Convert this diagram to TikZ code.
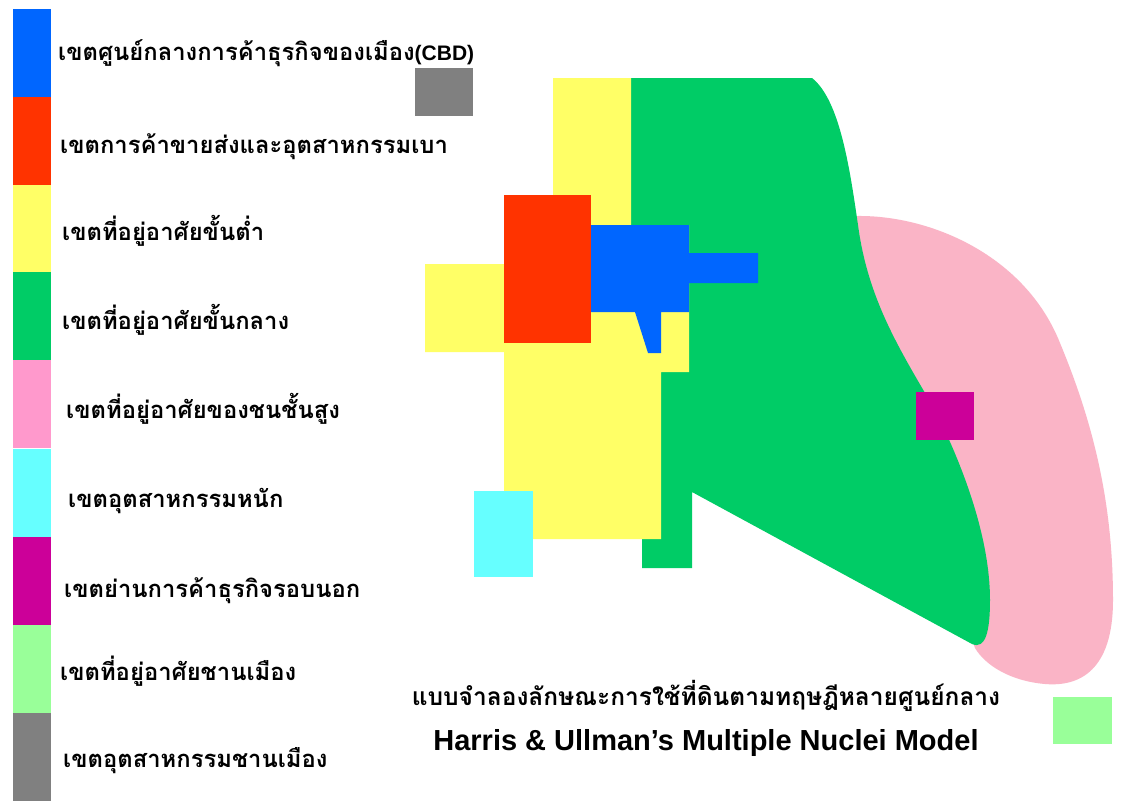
\documentclass[tikz,border=0pt]{standalone}
\usepackage{fontspec}
\setmainfont{Liberation Sans}
\newfontfamily\thaifont[Script=Thai]{Loma}
\definecolor{cbd}{HTML}{0066FF}
\definecolor{whs}{HTML}{FF3300}
\definecolor{low}{HTML}{FFFF66}
\definecolor{mid}{HTML}{00CC66}
\definecolor{highleg}{HTML}{FF99CC}
\definecolor{high}{HTML}{FAB4C6}
\definecolor{heavy}{HTML}{66FFFF}
\definecolor{outb}{HTML}{CC0099}
\definecolor{sub}{HTML}{99FF99}
\definecolor{subind}{HTML}{808080}
\tikzset{
  legbar/.style={inner sep=0pt, minimum width=38pt, minimum height=88pt, anchor=north west},
  leglabel/.style={anchor=base west, inner sep=0pt, font=\thaifont\bfseries\fontsize{23.8}{28}\selectfont},
  sq/.style={inner sep=0pt, anchor=north west}
}
\begin{document}
\begin{tikzpicture}[x=1pt,y=-1pt]
\useasboundingbox (0,0) rectangle (1125,801);
\fill[white] (0,0) rectangle (1125,801);
% legend bars
\node[legbar, fill=cbd]     (b1) at (13,9)   {};
\node[legbar, fill=whs]     (b2) at (13,97)  {};
\node[legbar, fill=low]     (b3) at (13,185) {};
\node[legbar, fill=mid]     (b4) at (13,272) {};
\node[legbar, fill=highleg] (b5) at (13,360) {};
\node[legbar, fill=heavy]   (b6) at (13,449) {};
\node[legbar, fill=outb]    (b7) at (13,537) {};
\node[legbar, fill=sub]     (b8) at (13,625) {};
\node[legbar, fill=subind]  (b9) at (13,713) {};
% legend labels
\node[leglabel] (l1) at (58,60)  {เขตศูนย์กลางการค้าธุรกิจของเมือง{\rmfamily\bfseries\fontsize{21}{24}\selectfont(CBD)}};
\node[leglabel] (l2) at (60,153) {เขตการค้าขายส่งและอุตสาหกรรมเบา};
\node[leglabel] (l3) at (62,240) {เขตที่อยู่อาศัยขั้นต่ำ};
\node[leglabel] (l4) at (62,329) {เขตที่อยู่อาศัยขั้นกลาง};
\node[leglabel] (l5) at (66,418) {เขตที่อยู่อาศัยของชนชั้นสูง};
\node[leglabel] (l6) at (68,507) {เขตอุตสาหกรรมหนัก};
\node[leglabel] (l7) at (64,597) {เขตย่านการค้าธุรกิจรอบนอก};
\node[leglabel] (l8) at (60,680) {เขตที่อยู่อาศัยชานเมือง};
\node[leglabel] (l9) at (63,767) {เขตอุตสาหกรรมชานเมือง};
% map: high-class residential (pink)
\fill[high] (857,216) .. controls (930,215) and (1025,255) .. (1060,343)
  .. controls (1092,420) and (1113,500) .. (1113,600)
  .. controls (1113,670) and (1080,687) .. (1045,684)
  .. controls (1010,681) and (985,665) .. (975,648) -- (850,300) -- cycle;
% middle-class residential (green)
\fill[mid] (631,78) -- (812,78) .. controls (840,100) and (850,170) .. (858,225)
  .. controls (868,300) and (900,350) .. (935,410)
  .. controls (965,470) and (990,540) .. (990,600)
  .. controls (990,630) and (986,650) .. (972,644)
  -- (692,492) -- (692,568) -- (642,568) -- (642,539) -- (661,539)
  -- (661,372) -- (689,372) -- (689,225) -- (631,225) -- cycle;
% low-class residential (yellow)
\fill[low] (553,78) -- (631,78) -- (631,225) -- (689,225) -- (689,372) -- (661,372)
  -- (661,539) -- (504,539) -- (504,352) -- (425,352) -- (425,264) -- (504,264)
  -- (504,195) -- (553,195) -- cycle;
% wholesale / light industry (red)
\fill[whs] (504,195) rectangle (591,343);
% CBD (blue)
\fill[cbd] (591,225) -- (689,225) -- (689,253) -- (758,253) -- (758,283) -- (689,283)
  -- (689,312) -- (661,312) -- (661,353) -- (648,353) -- (635,312) -- (591,312) -- cycle;
% small squares
\node[sq, fill=subind, minimum width=58pt, minimum height=48pt] (gray) at (415,68) {};
\node[sq, fill=heavy,  minimum width=59pt, minimum height=86pt] (cyan) at (474,491) {};
\node[sq, fill=outb,   minimum width=58pt, minimum height=48pt] (mag)  at (916,392) {};
\node[sq, fill=sub,    minimum width=59pt, minimum height=47pt] (lgr)  at (1053,697) {};
% titles
\node[anchor=base, inner sep=0pt, font=\thaifont\bfseries\fontsize{24.5}{28}\selectfont] (t1) at (706,705)
  {แบบจำลองลักษณะการใช้ที่ดินตามทฤษฎีหลายศูนย์กลาง};
\node[anchor=base, inner sep=0pt, font=\bfseries\fontsize{29}{34}\selectfont] (t2) at (706,750)
  {Harris \& Ullman’s Multiple Nuclei Model};
\end{tikzpicture}
\end{document}
